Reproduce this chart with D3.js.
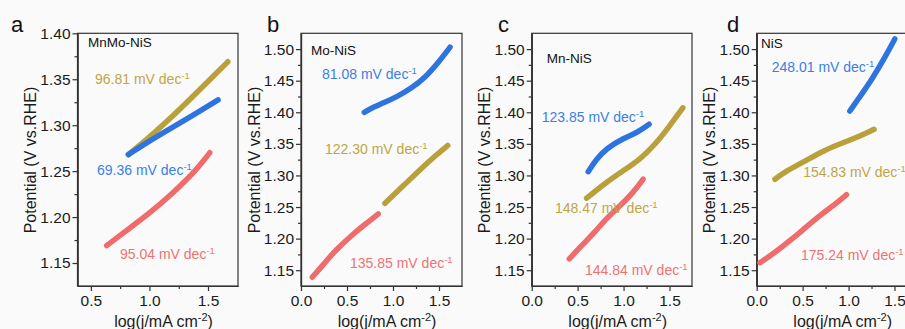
<!DOCTYPE html>
<html>
<head>
<meta charset="utf-8">
<script src="https://cdn.jsdelivr.net/npm/d3@7"></script>
<style>
  body { margin: 0; background: #fafafa; }
  svg { display: block; font-family: Arial, "Liberation Sans", sans-serif; }
</style>
</head>
<body>
<svg id="chart" width="905" height="329"></svg>
<script>
// ---- data ----
const panelLetters = ['a', 'b', 'c', 'd'];
const sampleNames = ['MnMo-NiS', 'Mo-NiS', 'Mn-NiS', 'NiS'];

// tafel slopes, mV dec-1
const goldSlopes = ['96.81', '122.30', '148.47', '154.83'];
const blueSlopes = ['69.36', '81.08', '123.85', '248.01'];
const redSlopes = ['95.04', '135.85', '144.84', '175.24'];

// [log j, potential]
const mnmoGold = [[0.82, 1.268], [1.0, 1.287], [1.2, 1.310], [1.4, 1.335], [1.55, 1.354], [1.669, 1.369]];
const mnmoBlue = [[0.82, 1.268], [1.0, 1.283], [1.2, 1.298], [1.4, 1.313], [1.586, 1.3275]];
const mnmoRed = [[0.635, 1.169], [0.8, 1.185], [1.0, 1.204], [1.2, 1.226], [1.4, 1.251], [1.515, 1.270]];

const moGold = [[0.913, 1.256], [1.1, 1.282], [1.3, 1.310], [1.45, 1.330], [1.595, 1.3475]];
const moBlue = [[0.688, 1.400], [0.77, 1.407], [0.9, 1.415], [1.05, 1.425], [1.2, 1.438], [1.35, 1.455], [1.5, 1.480], [1.62, 1.503]];
const moRed = [[0.123, 1.139], [0.25, 1.160], [0.37, 1.181], [0.587, 1.210], [0.7, 1.223], [0.84, 1.239]];

const mnGold = [[0.598, 1.264], [0.8, 1.288], [1.0, 1.308], [1.177, 1.325], [1.35, 1.350], [1.5, 1.378], [1.645, 1.407]];
const mnBlue = [[0.615, 1.306], [0.7, 1.325], [0.815, 1.343], [1.0, 1.359], [1.14, 1.367], [1.278, 1.381]];
const mnRed = [[0.409, 1.168], [0.55, 1.190], [0.7, 1.212], [0.815, 1.2326], [0.95, 1.250], [1.1, 1.272], [1.213, 1.294]];

const nisGold = [[0.199, 1.294], [0.3, 1.305], [0.489, 1.3196], [0.742, 1.3407], [1.0, 1.355], [1.15, 1.364], [1.278, 1.373]];
const nisBlue = [[1.014, 1.402], [1.1, 1.420], [1.25, 1.451], [1.4, 1.488], [1.503, 1.516]];
const nisRed = [[0.036, 1.162], [0.2, 1.178], [0.4, 1.201], [0.525, 1.2168], [0.7, 1.238], [0.85, 1.254], [0.978, 1.2695]];

const goldSeries = [mnmoGold, moGold, mnGold, nisGold];
const blueSeries = [mnmoBlue, moBlue, mnBlue, nisBlue];
const redSeries = [mnmoRed, moRed, mnRed, nisRed];

const xTicksA = [0.5, 1.0, 1.5];
const xTicksOther = [0.0, 0.5, 1.0, 1.5];
const yTicksA = [1.15, 1.20, 1.25, 1.30, 1.35, 1.40];
const yTicksOther = [1.15, 1.20, 1.25, 1.30, 1.35, 1.40, 1.45, 1.50];

// ---- layout ----
const colors = {gold: '#b9a03a', blue: '#2d74e0', red: '#f06b6b'};
const textColors = {gold: '#bfa645', blue: '#3a7fe6', red: '#f07272'};
const plotTop = 33.3;
const plotBottom = 286;

const panels = [
  {left: 77.5, right: 238, xDom: [0.386, 1.756], yDom: [1.125, 1.40], xt: xTicksA, yt: yTicksA,
    letterX: 11, name: [10.5, 14], gold: [17.5, 50.7], blue: [19.5, 141.7], red: [42.5, 225.7]},
  {left: 301, right: 462, xDom: [0, 1.75], yDom: [1.125, 1.525], xt: xTicksOther, yt: yTicksOther,
    letterX: 267, name: [10, 21.7], gold: [24, 120.7], blue: [21, 45.7], red: [49, 234.7]},
  {left: 531.7, right: 692, xDom: [0, 1.745], yDom: [1.125, 1.525], xt: xTicksOther, yt: yTicksOther,
    letterX: 498, name: [15, 29.4], gold: [23.3, 180], blue: [10, 88.4], red: [53.3, 241.7]},
  {left: 756.7, right: 917, xDom: [0, 1.745], yDom: [1.125, 1.525], xt: xTicksOther, yt: yTicksOther,
    letterX: 727, name: [4.3, 14.4], gold: [46.5, 143.4], blue: [15, 38.4], red: [44.3, 226.7]}
];

const svg = d3.select('#chart');

function slopeText(sel, value, color) {
  sel.attr('fill', color).attr('font-size', 14);
  sel.append('tspan').text(value + ' mV dec');
  sel.append('tspan').attr('dy', -5).attr('font-size', 9.5).text('-1');
}

panels.forEach((p, i) => {
  const x = d3.scaleLinear().domain(p.xDom).range([p.left, p.right]);
  const y = d3.scaleLinear().domain(p.yDom).range([plotBottom, plotTop]);
  const g = svg.append('g');

  // minor ticks
  const xMinor = p.xt.map((d) => d + 0.25).concat([p.xt[0] - 0.25])
      .filter((d) => d > p.xDom[0] + 0.01 && d < p.xDom[1] - 0.01);
  const yMinor = p.yt.map((d) => d + 0.025).concat([p.yt[0] - 0.025])
      .filter((d) => d > p.yDom[0] + 0.005 && d < p.yDom[1] - 0.005);

  g.append('g').attr('transform', `translate(0,${plotBottom})`)
      .call(d3.axisBottom(x).tickValues(xMinor).tickSize(3).tickSizeOuter(0).tickFormat(''));
  g.append('g').attr('transform', `translate(${p.left},0)`)
      .call(d3.axisLeft(y).tickValues(yMinor).tickSize(3).tickSizeOuter(0).tickFormat(''));

  g.append('g').attr('transform', `translate(0,${plotBottom})`)
      .call(d3.axisBottom(x).tickValues(p.xt).tickSize(5).tickSizeOuter(0).tickPadding(4)
          .tickFormat(d3.format('.1f')));
  g.append('g').attr('transform', `translate(${p.left},0)`)
      .call(d3.axisLeft(y).tickValues(p.yt).tickSize(5).tickSizeOuter(0).tickPadding(2)
          .tickFormat(d3.format('.2f')));

  g.selectAll('.tick text').attr('font-size', 15.5).attr('fill', '#1a1a1a')
      .attr('font-family', 'Arial, "Liberation Sans", sans-serif');
  g.selectAll('.domain, .tick line').attr('stroke', '#333').attr('stroke-width', 1.2);

  // frame
  g.append('rect').attr('x', p.left).attr('y', plotTop)
      .attr('width', p.right - p.left).attr('height', plotBottom - plotTop)
      .attr('fill', 'none').attr('stroke', '#333').attr('stroke-width', 1.2);

  // curves
  const line = d3.line().x((d) => x(d[0])).y((d) => y(d[1])).curve(d3.curveBasis);
  [[redSeries[i], colors.red], [goldSeries[i], colors.gold], [blueSeries[i], colors.blue]]
      .forEach(([data, c]) => {
        g.append('path').datum(data).attr('d', line)
            .attr('fill', 'none').attr('stroke', c).attr('stroke-width', 5.5)
            .attr('stroke-linecap', 'round').attr('stroke-linejoin', 'round');
      });

  // labels
  g.append('text').attr('x', p.left + p.name[0]).attr('y', plotTop + p.name[1])
      .attr('font-size', 13.5).attr('fill', '#111').text(sampleNames[i]);
  slopeText(g.append('text').attr('x', p.left + p.gold[0]).attr('y', plotTop + p.gold[1]),
      goldSlopes[i], textColors.gold);
  slopeText(g.append('text').attr('x', p.left + p.blue[0]).attr('y', plotTop + p.blue[1]),
      blueSlopes[i], textColors.blue);
  slopeText(g.append('text').attr('x', p.left + p.red[0]).attr('y', plotTop + p.red[1]),
      redSlopes[i], textColors.red);

  // panel letter
  g.append('text').attr('x', p.letterX).attr('y', 31.5).attr('font-size', 22)
      .attr('fill', '#111').text(panelLetters[i]);

  // axis titles
  g.append('text')
      .attr('transform', `translate(${p.left - 41.5},160) rotate(-90)`)
      .attr('text-anchor', 'middle').attr('font-size', 16).attr('fill', '#1a1a1a')
      .text('Potential (V vs.RHE)');

  const xt = g.append('text').attr('x', p.left + 86).attr('y', 327)
      .attr('text-anchor', 'middle').attr('font-size', 16).attr('fill', '#1a1a1a');
  xt.append('tspan').text('log(j/mA cm');
  xt.append('tspan').attr('dy', -6).attr('font-size', 11).text('-2');
  xt.append('tspan').attr('dy', 6).text(')');
});
</script>
</body>
</html>
